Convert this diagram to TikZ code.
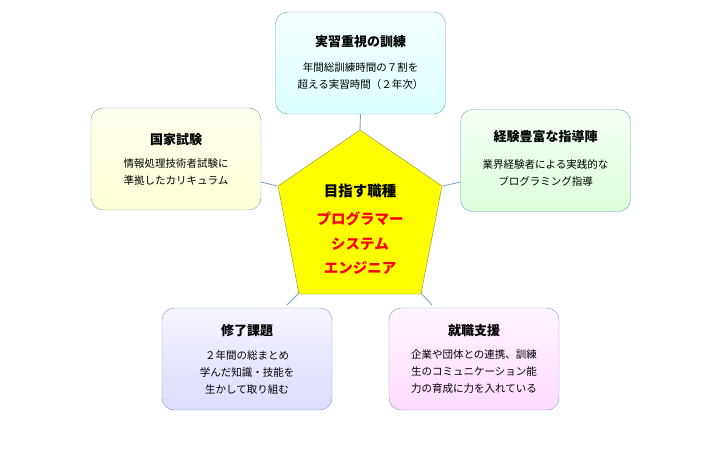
\documentclass[tikz,border=0pt]{standalone}
\usepackage{fontspec}
\setmainfont{Noto Sans CJK JP}
\usetikzlibrary{positioning}
\definecolor{rim}{HTML}{7A9CC6}
\definecolor{penta}{HTML}{FFFF00}
\definecolor{pentarim}{HTML}{8A8A50}
\tikzset{
  infobox/.style={draw=rim, rounded corners=12pt, minimum width=170pt, minimum height=102pt},
  headtext/.style={font=\fontsize{13}{15}\selectfont\bfseries},
  pentatext/.style={font=\fontsize{14.5}{16}\selectfont\bfseries},
  bodytext/.style={font=\fontsize{10.5}{17}\selectfont, align=center},
  link/.style={draw=rim, thick}
}
\begin{document}
\begin{tikzpicture}[x=1pt,y=-1pt]
  \useasboundingbox (0,0) rectangle (720,460);

  % pentagon
  \coordinate (PTop) at (360,130);
  \coordinate (PRight) at (442,186);
  \coordinate (PLowRight) at (421,294);
  \coordinate (PLowLeft) at (299,294);
  \coordinate (PLeft) at (278,186);
  \draw[pentarim, fill=penta] (PTop) -- (PRight) -- (PLowRight) -- (PLowLeft) -- (PLeft) -- cycle;
  \node (Goal) [pentatext] at (360,191) {目指す職種};
  \node (Prog) [pentatext, text=red] at (360,219) {プログラマー};
  \node (Sys) [pentatext, text=red] at (360,244) {システム};
  \node (Eng) [pentatext, text=red] at (360,268) {エンジニア};

  % boxes
  \node (Practice) [infobox, top color=cyan!4, bottom color=cyan!14] at (360.5,63) {};
  \node [headtext] at (360.5,42) {実習重視の訓練};
  \node [bodytext] at (360.5,76) {年間総訓練時間の７割を\\超える実習時間（２年次）};

  \node (Exam) [infobox, top color=yellow!6, bottom color=yellow!16] at (176,159) {};
  \node [headtext] at (176,140) {国家試験};
  \node [bodytext] at (176,172) {情報処理技術者試験に\\準拠したカリキュラム};

  \node (Mentor) [infobox, top color=green!4, bottom color=green!14] at (545.5,160.5) {};
  \node [headtext] at (545.5,137) {経験豊富な指導陣};
  \node [bodytext] at (545.5,173) {業界経験者による実践的な\\プログラミング指導};

  \node (Project) [infobox, top color=blue!4, bottom color=blue!14] at (247,359) {};
  \node [headtext] at (247,331) {修了課題};
  \node [bodytext] at (247,372) {２年間の総まとめ\\学んだ知識・技能を\\生かして取り組む};

  \node (Career) [infobox, top color=magenta!4, bottom color=magenta!14] at (474,359) {};
  \node [headtext] at (474,331) {就職支援};
  \node [bodytext] at (474,372) {企業や団体との連携、訓練\\生のコミュニケーション能\\力の育成に力を入れている};

  % links
  \draw[link] (Practice.south) -- (PTop);
  \draw[link] (Exam.east |- 0,182) -- ([xshift=-1pt]PLeft);
  \draw[link] (Mentor.west |- 0,182) -- ([xshift=1pt]PRight);
  \draw[link] (287,305) -- ([yshift=1pt]PLowLeft);
  \draw[link] (432,305) -- ([yshift=1pt]PLowRight);
\end{tikzpicture}
\end{document}
